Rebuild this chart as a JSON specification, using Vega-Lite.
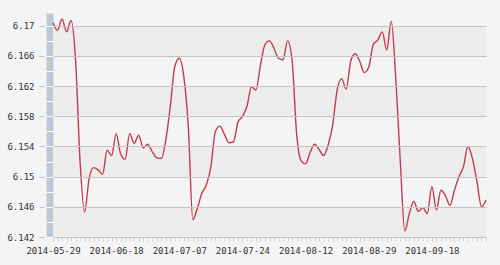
{
  "$schema": "https://vega.github.io/schema/vega-lite/v6.json",
  "width": 433,
  "height": 224,
  "autosize": {"type": "none"},
  "padding": {"left": 53, "top": 13, "right": 14, "bottom": 28},
  "background": "#f4f4f4",
  "config": {
    "view": {"stroke": null},
    "axis": {"labelFont": "DejaVu Sans Mono", "labelFontSize": 9, "labelColor": "#333333"}
  },
  "datasets": {
    "bands": [
      {"lo": 6.166, "hi": 6.17},
      {"lo": 6.158, "hi": 6.162},
      {"lo": 6.15, "hi": 6.154},
      {"lo": 6.142, "hi": 6.146}
    ],
    "rates": [
      {"date": "2014-05-29", "rate": 6.1704},
      {"date": "2014-05-30", "rate": 6.1694},
      {"date": "2014-06-02", "rate": 6.1709},
      {"date": "2014-06-03", "rate": 6.1692},
      {"date": "2014-06-04", "rate": 6.1707},
      {"date": "2014-06-05", "rate": 6.1655},
      {"date": "2014-06-06", "rate": 6.152},
      {"date": "2014-06-09", "rate": 6.1453},
      {"date": "2014-06-10", "rate": 6.1497},
      {"date": "2014-06-11", "rate": 6.1512},
      {"date": "2014-06-12", "rate": 6.1509},
      {"date": "2014-06-13", "rate": 6.1503},
      {"date": "2014-06-16", "rate": 6.1535},
      {"date": "2014-06-17", "rate": 6.1528},
      {"date": "2014-06-18", "rate": 6.1557},
      {"date": "2014-06-19", "rate": 6.153},
      {"date": "2014-06-20", "rate": 6.1523},
      {"date": "2014-06-23", "rate": 6.1557},
      {"date": "2014-06-24", "rate": 6.1544},
      {"date": "2014-06-25", "rate": 6.1555},
      {"date": "2014-06-26", "rate": 6.1538},
      {"date": "2014-06-27", "rate": 6.1543},
      {"date": "2014-06-28", "rate": 6.1533},
      {"date": "2014-06-30", "rate": 6.1525},
      {"date": "2014-07-01", "rate": 6.1524},
      {"date": "2014-07-02", "rate": 6.1548},
      {"date": "2014-07-03", "rate": 6.1593},
      {"date": "2014-07-04", "rate": 6.1646},
      {"date": "2014-07-07", "rate": 6.1657},
      {"date": "2014-07-08", "rate": 6.1633},
      {"date": "2014-07-09", "rate": 6.1566},
      {"date": "2014-07-10", "rate": 6.1443},
      {"date": "2014-07-11", "rate": 6.1458},
      {"date": "2014-07-14", "rate": 6.1478},
      {"date": "2014-07-15", "rate": 6.1489},
      {"date": "2014-07-16", "rate": 6.1513},
      {"date": "2014-07-17", "rate": 6.156},
      {"date": "2014-07-18", "rate": 6.1567},
      {"date": "2014-07-19", "rate": 6.1556},
      {"date": "2014-07-21", "rate": 6.1545},
      {"date": "2014-07-22", "rate": 6.1546},
      {"date": "2014-07-23", "rate": 6.1572},
      {"date": "2014-07-24", "rate": 6.158},
      {"date": "2014-07-25", "rate": 6.1593},
      {"date": "2014-07-28", "rate": 6.1619},
      {"date": "2014-07-29", "rate": 6.1615},
      {"date": "2014-07-30", "rate": 6.1648},
      {"date": "2014-07-31", "rate": 6.1675},
      {"date": "2014-08-01", "rate": 6.168},
      {"date": "2014-08-04", "rate": 6.167},
      {"date": "2014-08-05", "rate": 6.1657},
      {"date": "2014-08-06", "rate": 6.1655},
      {"date": "2014-08-07", "rate": 6.168},
      {"date": "2014-08-08", "rate": 6.1655},
      {"date": "2014-08-09", "rate": 6.1558},
      {"date": "2014-08-11", "rate": 6.1521},
      {"date": "2014-08-12", "rate": 6.1517},
      {"date": "2014-08-13", "rate": 6.1532},
      {"date": "2014-08-14", "rate": 6.1543},
      {"date": "2014-08-15", "rate": 6.1536},
      {"date": "2014-08-16", "rate": 6.1528},
      {"date": "2014-08-18", "rate": 6.1542},
      {"date": "2014-08-19", "rate": 6.1568},
      {"date": "2014-08-20", "rate": 6.1615},
      {"date": "2014-08-21", "rate": 6.163},
      {"date": "2014-08-22", "rate": 6.1616},
      {"date": "2014-08-25", "rate": 6.1653},
      {"date": "2014-08-26", "rate": 6.1663},
      {"date": "2014-08-27", "rate": 6.1653},
      {"date": "2014-08-28", "rate": 6.1638},
      {"date": "2014-08-29", "rate": 6.1645},
      {"date": "2014-09-01", "rate": 6.1675},
      {"date": "2014-09-02", "rate": 6.1681},
      {"date": "2014-09-03", "rate": 6.1692},
      {"date": "2014-09-04", "rate": 6.1668},
      {"date": "2014-09-05", "rate": 6.1706},
      {"date": "2014-09-08", "rate": 6.163},
      {"date": "2014-09-09", "rate": 6.152},
      {"date": "2014-09-10", "rate": 6.1428},
      {"date": "2014-09-11", "rate": 6.1451},
      {"date": "2014-09-12", "rate": 6.1467},
      {"date": "2014-09-15", "rate": 6.1454},
      {"date": "2014-09-16", "rate": 6.1459},
      {"date": "2014-09-17", "rate": 6.1451},
      {"date": "2014-09-18", "rate": 6.1487},
      {"date": "2014-09-19", "rate": 6.1456},
      {"date": "2014-09-22", "rate": 6.1482},
      {"date": "2014-09-23", "rate": 6.1475},
      {"date": "2014-09-24", "rate": 6.1462},
      {"date": "2014-09-25", "rate": 6.1482},
      {"date": "2014-09-26", "rate": 6.15},
      {"date": "2014-09-28", "rate": 6.1513},
      {"date": "2014-09-29", "rate": 6.154},
      {"date": "2014-09-30", "rate": 6.1524},
      {"date": "2014-10-08", "rate": 6.1493},
      {"date": "2014-10-09", "rate": 6.146},
      {"date": "2014-10-10", "rate": 6.1469}
    ]
  },
  "layer": [
    {
      "data": {"name": "bands"},
      "mark": {"type": "rect", "color": "#ececec"},
      "encoding": {
        "y": {
          "field": "lo", "type": "quantitative",
          "scale": {"domain": [6.142, 6.1717], "nice": false, "zero": false},
          "axis": {"orient": "left", "offset": 3.5, "domain": true, "domainColor": "#b9c9d9", "domainWidth": 7, "ticks": false, "labels": false, "grid": false, "title": null, "zindex": 0}
        },
        "y2": {"field": "hi"}
      }
    },
    {
      "data": {"name": "rates"},
      "mark": {"type": "line", "interpolate": "monotone", "color": "#c23b4e", "strokeWidth": 1.4},
      "encoding": {
        "x": {
          "field": "date", "type": "ordinal",
          "scale": {"type": "point", "padding": 0},
          "axis": {
            "title": null, "domain": false, "tickColor": "#c8d5e2", "tickSize": 4, "labelPadding": 5, "labelAngle": 0, "labelOverlap": false,
            "labelExpr": "indexof(['2014-05-29','2014-06-18','2014-07-07','2014-07-24','2014-08-12','2014-08-29','2014-09-18'], datum.value) >= 0 ? datum.value : ''"
          }
        },
        "y": {
          "field": "rate", "type": "quantitative",
          "scale": {"domain": [6.142, 6.1717], "nice": false, "zero": false},
          "axis": {"orient": "left", "offset": 9, "domain": false, "values": [6.142, 6.146, 6.15, 6.154, 6.158, 6.162, 6.166, 6.17], "format": ".3~f", "tickSize": 5, "tickColor": "#c0c0c0", "labelPadding": 5, "grid": true, "gridColor": "#c4c4c4", "gridWidth": 1, "title": null, "zindex": 1}
        }
      }
    },
    {
      "data": {"name": "bands"},
      "mark": {"type": "rect", "opacity": 0},
      "encoding": {
        "y": {
          "field": "lo", "type": "quantitative",
          "scale": {"domain": [6.142, 6.1717], "nice": false, "zero": false},
          "axis": {"orient": "left", "offset": 0, "domain": false, "labels": false, "grid": false, "values": [6.142, 6.144, 6.146, 6.148, 6.15, 6.152, 6.154, 6.156, 6.158, 6.16, 6.162, 6.164, 6.166, 6.168, 6.17], "tickColor": "#ffffff", "tickSize": 7, "tickWidth": 1, "title": null, "zindex": 2}
        },
        "y2": {"field": "hi"}
      }
    }
  ],
  "resolve": {"axis": {"y": "independent"}}
}
